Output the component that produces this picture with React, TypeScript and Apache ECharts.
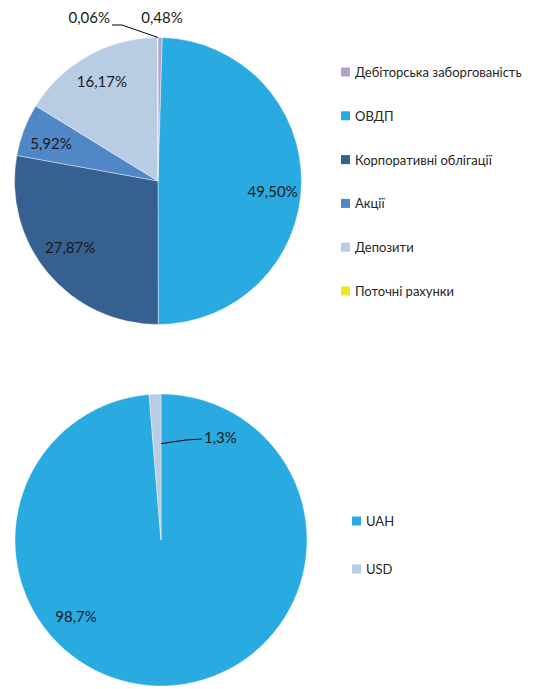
import React, { useEffect, useRef } from "react";
import * as echarts from "echarts";

const assetNames = [
  "Дебіторська заборгованість",
  "ОВДП",
  "Корпоративні облігації",
  "Акції",
  "Депозити",
  "Поточні рахунки",
];
const assetValues = [0.48, 49.5, 27.87, 5.92, 16.17, 0.06];
const assetColors = ["#B3A2C7", "#29ABE2", "#36608F", "#5088C7", "#B8CCE4", "#EDE72B"];

const currencyNames = ["UAH", "USD"];
const currencyValues = [98.7, 1.3];
const currencyColors = ["#29ABE2", "#B8CCE4"];

const FONT = 'Lato, "Noto Sans", "DejaVu Sans", sans-serif';
const fmt = (v: number, d: number) => v.toFixed(d).replace(".", ",") + "%";

const TOP_C = [158, 181];
const TOP_R = 143.5;
const BOT_C = [161, 540];
const BOT_R = 146;
const SQUARE = "path://M0,0L10,0L10,10L0,10Z";

export default function App() {
  const ref = useRef<HTMLDivElement>(null);
  useEffect(() => {
    if (!ref.current) return;
    const chart = echarts.init(ref.current, null, { renderer: "svg" });
    const small = new Set([0, 5]);
    const labelText = { color: "#1a1a1a", fontSize: 15, fontFamily: FONT };
    const legendText = { fontSize: 13, lineHeight: 14, color: "#262626", fontFamily: FONT };

    const option: any = {
      animation: false,
      backgroundColor: "#ffffff",
      legend: [
        {
          orient: "vertical",
          left: 336,
          top: 60,
          itemWidth: 9,
          itemHeight: 9,
          itemGap: 29.8,
          icon: SQUARE,
          selectedMode: false,
          itemStyle: { borderWidth: 0 },
          textStyle: legendText,
          data: assetNames.map((n, i) => ({
            name: n,
            icon: SQUARE,
            itemStyle: { color: assetColors[i], borderWidth: 0 },
          })),
        },
        {
          orient: "vertical",
          left: 347,
          top: 509,
          itemWidth: 9,
          itemHeight: 9,
          itemGap: 34,
          icon: SQUARE,
          selectedMode: false,
          itemStyle: { borderWidth: 0 },
          textStyle: legendText,
          data: currencyNames.map((n, i) => ({
            name: n,
            icon: SQUARE,
            itemStyle: { color: currencyColors[i], borderWidth: 0 },
          })),
        },
      ],
      graphic: [
        {
          type: "polyline",
          silent: true,
          z: 100,
          shape: {
            points: [
              [TOP_C[0], TOP_C[1] - TOP_R],
              [122, 25],
              [112, 25],
            ],
          },
          style: { stroke: "#000", lineWidth: 1, fill: null },
        },
        {
          type: "polyline",
          silent: true,
          z: 100,
          shape: {
            points: [
              [BOT_C[0], BOT_C[1] - BOT_R * 0.66],
              [186, 440],
              [202, 439],
            ],
          },
          style: { stroke: "#000", lineWidth: 1, fill: null },
        },
      ],
      series: [
        {
          type: "pie",
          center: TOP_C,
          radius: TOP_R,
          startAngle: 90,
          clockwise: true,
          avoidLabelOverlap: false,
          itemStyle: { borderColor: "#ffffff", borderWidth: 0.4 },
          labelLine: { show: false },
          data: assetNames.map((n, i) => ({
            name: n,
            value: assetValues[i],
            itemStyle: { color: assetColors[i] },
            label: small.has(i)
              ? { show: true, position: "outside", formatter: fmt(assetValues[i], 2), ...labelText }
              : { show: false },
          })),
          labelLayout: (p: any) => {
            if (p.dataIndex === 5) {
              return { x: 110, y: 17, align: "right", verticalAlign: "middle" };
            }
            if (p.dataIndex === 0) {
              return { x: 162, y: 17, align: "center", verticalAlign: "middle" };
            }
            return {};
          },
        },
        {
          type: "pie",
          center: TOP_C,
          radius: [TOP_R * 0.555, TOP_R],
          startAngle: 90,
          clockwise: true,
          silent: true,
          avoidLabelOverlap: false,
          itemStyle: { color: "rgba(0,0,0,0)" },
          labelLine: { show: false },
          data: assetNames.map((n, i) => ({
            name: n,
            value: assetValues[i],
            label: small.has(i)
              ? { show: false }
              : { show: true, position: "inside", formatter: fmt(assetValues[i], 2), ...labelText },
          })),
          labelLayout: (p: any) => {
            if (p.dataIndex === 1) return { dy: 8 };
            if (p.dataIndex === 2) return { dy: -8 };
            if (p.dataIndex === 3) return { dy: 3 };
            return {};
          },
        },
        {
          type: "pie",
          center: BOT_C,
          radius: BOT_R,
          startAngle: 90,
          clockwise: true,
          avoidLabelOverlap: false,
          itemStyle: { borderColor: "#ffffff", borderWidth: 0.4 },
          labelLine: { show: false },
          data: currencyNames.map((n, i) => ({
            name: n,
            value: currencyValues[i],
            itemStyle: { color: currencyColors[i] },
            label: {
              show: true,
              position: "inside",
              formatter: fmt(currencyValues[i], 1),
              ...labelText,
            },
          })),
          labelLayout: (p: any) => {
            if (p.dataIndex === 0) {
              return { x: 76, y: 616, align: "center", verticalAlign: "middle" };
            }
            return { x: 204, y: 437, align: "left", verticalAlign: "middle" };
          },
        },
      ],
    };
    chart.setOption(option);
    return () => chart.dispose();
  }, []);
  return (
    <div
      ref={ref}
      style={{ position: "fixed", left: 0, top: 0, width: 540, height: 689, background: "#fff" }}
    />
  );
}
